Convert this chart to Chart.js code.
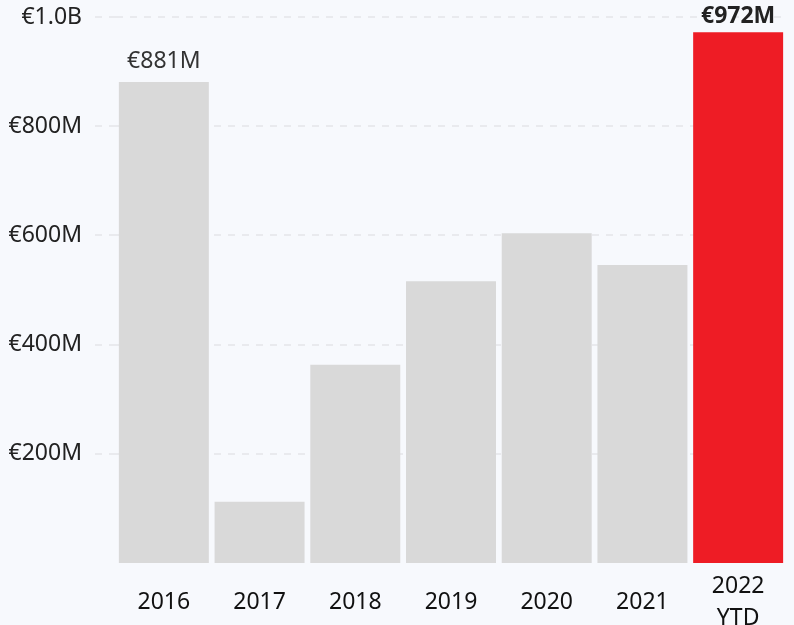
<!DOCTYPE html>
<html>
<head>
<meta charset="utf-8">
<script src="https://cdn.jsdelivr.net/npm/chart.js@4.4.1/dist/chart.umd.min.js"></script>
<style>
html, body { margin: 0; padding: 0; background: #f7f9fd; overflow: hidden; }
#wrap { width: 794px; height: 625px; }
</style>
</head>
<body>
<div id="wrap"><canvas id="revenueChart" width="794" height="625"></canvas></div>
<script>
// years on the x axis (last one split over two lines)
const years = ['2016', '2017', '2018', '2019', '2020', '2021', ['2022', 'YTD']];
// yearly totals, millions of euro
const totals = [881, 112, 363, 516, 604, 546, 972];
// y axis ticks, millions of euro
const yTicks = [200, 400, 600, 800, 1000];
// bars that get a value label on top
const labelledBars = [0, 6];

const FONT = '"Noto Sans", sans-serif';
const gridColor = '#e9eaee';

function euroLabel(v) {
    if (v >= 1000) return '€' + (v / 1000).toFixed(1) + 'B';
    return '€' + v + 'M';
}

// colour per bar, current year in red
function barColors(count) {
    const colors = [];
    for (let i = 0; i < count; i++) {
        colors.push(i === count - 1 ? '#ee1c25' : '#d9d9d9');
    }
    return colors;
}

// draws the value above the chosen bars (kept inside the canvas)
const valueLabels = {
    id: 'valueLabels',
    afterDatasetsDraw(chart) {
        const ctx = chart.ctx;
        const bars = chart.getDatasetMeta(0).data;
        ctx.save();
        ctx.textAlign = 'center';
        ctx.textBaseline = 'middle';
        labelledBars.forEach(i => {
            const bar = bars[i];
            const last = i === totals.length - 1;
            ctx.font = (last ? 'bold ' : '') + '23px ' + FONT;
            ctx.fillStyle = last ? '#222' : '#333';
            ctx.fillText(euroLabel(totals[i]), bar.x, Math.max(bar.y - 21, 16));
        });
        ctx.restore();
    }
};

const ctx = document.getElementById('revenueChart').getContext('2d');
new Chart(ctx, {
    type: 'bar',
    data: {
        labels: years,
        datasets: [{
            data: totals,
            backgroundColor: barColors(totals.length),
            borderWidth: 0,
            barPercentage: 0.94,
            categoryPercentage: 1.0
        }]
    },
    options: {
        responsive: false,
        animation: false,
        devicePixelRatio: 1,
        layout: { padding: { top: 17, right: 8, bottom: 0, left: 0 } },
        plugins: {
            legend: { display: false },
            tooltip: { enabled: false }
        },
        scales: {
            x: {
                afterFit(scale) {
                    scale.height = 62;
                    scale.paddingLeft = 0;
                    scale.paddingRight = 0;
                },
                grid: { display: false },
                border: { display: false },
                ticks: {
                    color: '#111',
                    font: { family: FONT, size: 23, lineHeight: 1.4 },
                    padding: 15,
                    crossAlign: 'center',
                    maxRotation: 0,
                    autoSkip: false
                }
            },
            y: {
                min: 0,
                max: 1000,
                afterBuildTicks(scale) {
                    scale.ticks = yTicks.map(v => ({ value: v }));
                },
                afterFit(scale) {
                    scale.width = 116;
                    scale.paddingTop = 0;
                    scale.paddingBottom = 0;
                },
                border: { display: false, dash: [7, 7] },
                grid: {
                    color: gridColor,
                    lineWidth: 2,
                    tickBorderDash: [7, 7],
                    tickColor: gridColor,
                    tickLength: 21
                },
                ticks: {
                    color: '#222',
                    font: { family: FONT, size: 23 },
                    padding: 13,
                    callback: v => euroLabel(v)
                }
            }
        }
    },
    plugins: [valueLabels]
});
</script>
</body>
</html>
